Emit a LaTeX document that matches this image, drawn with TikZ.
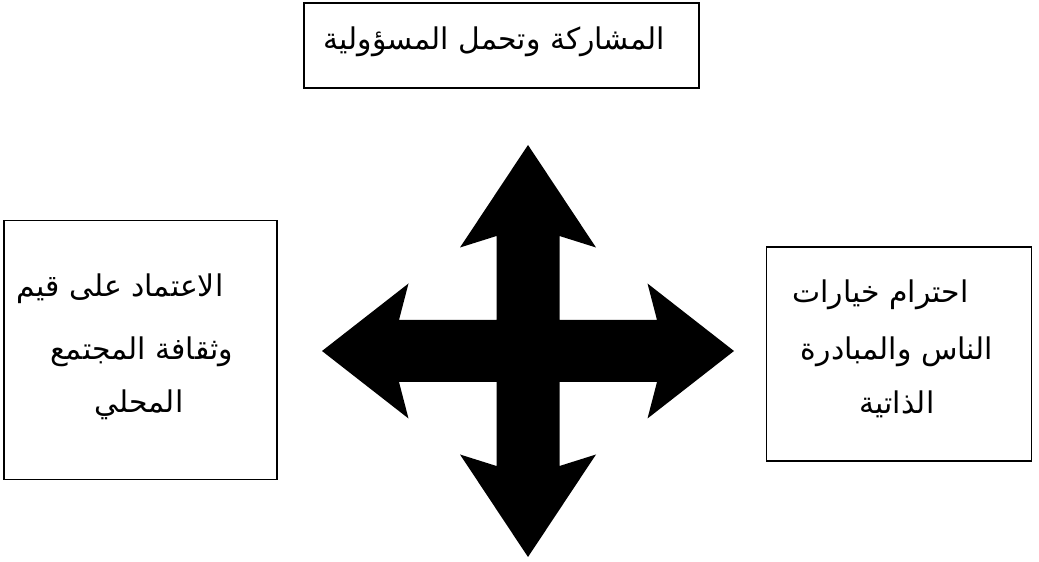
\documentclass[tikz,border=0pt]{standalone}
\usepackage{fontspec}
\usepackage{tikz}
\usetikzlibrary{positioning}
\TeXXeTstate=1
\newfontfamily\arabicfont[Script=Arabic]{DejaVu Sans}
\tikzset{
  box/.style={draw=black, line width=1pt, inner sep=0pt},
  line/.style={anchor=base, inner sep=0pt,
               font=\arabicfont\fontsize{17}{20}\selectfont},
}

\begin{document}
\begin{tikzpicture}
  \useasboundingbox (0,0) rectangle (20.78,-11.24);
  % boxes
  \node[box, minimum width=7.90cm, minimum height=1.70cm] (topbox) at (10.03,-0.91) {};
  \node[box, minimum width=5.45cm, minimum height=5.18cm] (leftbox) at (2.81,-7.00) {};
  \node[box, minimum width=5.30cm, minimum height=4.29cm] (rightbox) at (17.98,-7.08) {};
  % texts
  \node[line] (toptxt) at (9.89,-1.00) {\beginR المشاركة وتحمل المسؤولية\endR};
  \node[line] (left1) at (2.40,-5.94) {\beginR الاعتماد على قيم\endR};
  \node[line] (left2) at (2.83,-7.20) {\beginR وثقافة المجتمع\endR};
  \node[line] (left3) at (2.78,-8.26) {\beginR المحلي\endR};
  \node[line] (right1) at (17.61,-6.06) {\beginR احترام خيارات\endR};
  \node[line] (right2) at (17.94,-7.20) {\beginR الناس والمبادرة\endR};
  \node[line] (right3) at (17.94,-8.28) {\beginR الذاتية\endR};
  % four-way arrow
  \coordinate (ctr) at (10.56,-7.02);
  \fill[black, shift={(ctr)}]
    (0,4.12) -- (1.36,2.07) -- (0.63,2.30) -- (0.63,0.62)
    -- (2.58,0.62) -- (2.39,1.35) -- (4.12,0) -- (2.39,-1.35) -- (2.58,-0.62)
    -- (0.63,-0.62) -- (0.63,-2.30) -- (1.36,-2.07) -- (0,-4.12)
    -- (-1.36,-2.07) -- (-0.63,-2.30) -- (-0.63,-0.62)
    -- (-2.58,-0.62) -- (-2.39,-1.35) -- (-4.12,0) -- (-2.39,1.35) -- (-2.58,0.62)
    -- (-0.63,0.62) -- (-0.63,2.30) -- (-1.36,2.07) -- cycle;
\end{tikzpicture}
\end{document}
